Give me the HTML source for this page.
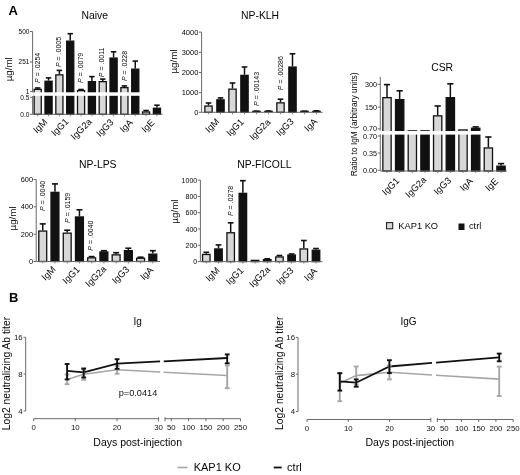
<!DOCTYPE html><html><head><meta charset="utf-8"><style>html,body{margin:0;padding:0;background:#fff;}svg{display:block;filter:blur(0.3px);}</style></head><body>
<svg width="520" height="475" viewBox="0 0 520 475" font-family='"Liberation Sans", sans-serif'>
<rect width="520" height="475" fill="#fff"/>
<text x="8.4" y="14.5" font-size="13" text-anchor="start" font-weight="bold" fill="#050505">A</text>
<text x="9.1" y="302.3" font-size="13" text-anchor="start" font-weight="bold" fill="#050505">B</text>
<text x="81.4" y="19.0" font-size="10.4" text-anchor="start" font-weight="normal" fill="#050505">Naive</text>
<text x="11.8" y="69.3" font-size="9.8" text-anchor="middle" font-weight="normal" fill="#050505" transform="rotate(-90 11.8 69.3)">µg/ml</text>
<line x1="32.6" y1="31.5" x2="32.6" y2="92.4" stroke="#6a6a6a" stroke-width="1"/>
<line x1="30.0" y1="31.5" x2="32.6" y2="31.5" stroke="#6a6a6a" stroke-width="1"/>
<text x="29.4" y="33.84" font-size="6.5" text-anchor="end" font-weight="normal" fill="#050505">500</text>
<line x1="30.0" y1="62" x2="32.6" y2="62" stroke="#6a6a6a" stroke-width="1"/>
<text x="29.4" y="64.34" font-size="6.5" text-anchor="end" font-weight="normal" fill="#050505">251</text>
<line x1="30.0" y1="91.6" x2="32.6" y2="91.6" stroke="#6a6a6a" stroke-width="1"/>
<text x="29.4" y="93.94" font-size="6.5" text-anchor="end" font-weight="normal" fill="#050505">1</text>
<line x1="32.6" y1="96.0" x2="32.6" y2="114.3" stroke="#6a6a6a" stroke-width="1"/>
<line x1="30.0" y1="97.3" x2="32.6" y2="97.3" stroke="#6a6a6a" stroke-width="1"/>
<text x="29.4" y="99.64" font-size="6.5" text-anchor="end" font-weight="normal" fill="#050505">0.5</text>
<line x1="30.0" y1="114.3" x2="32.6" y2="114.3" stroke="#6a6a6a" stroke-width="1"/>
<text x="29.4" y="116.64" font-size="6.5" text-anchor="end" font-weight="normal" fill="#050505">0.0</text>
<line x1="37.7" y1="87.8" x2="37.7" y2="88.7" stroke="#111" stroke-width="1.5"/>
<line x1="34.97" y1="88.0" x2="40.43000000000001" y2="88.0" stroke="#111" stroke-width="1.6"/>
<rect x="34.15" y="89.35" width="7.10" height="24.95" fill="#d8d8d8" stroke="#111" stroke-width="1.3"/>
<line x1="48.540000000000006" y1="77.7" x2="48.540000000000006" y2="80.6" stroke="#111" stroke-width="1.5"/>
<line x1="45.81" y1="77.9" x2="51.27000000000001" y2="77.9" stroke="#111" stroke-width="1.6"/>
<rect x="44.99" y="81.25" width="7.10" height="33.05" fill="#111" stroke="#111" stroke-width="1.3"/>
<line x1="59.38" y1="70.2" x2="59.38" y2="74.2" stroke="#111" stroke-width="1.5"/>
<line x1="56.650000000000006" y1="70.4" x2="62.11" y2="70.4" stroke="#111" stroke-width="1.6"/>
<rect x="55.83" y="74.85" width="7.10" height="39.45" fill="#d8d8d8" stroke="#111" stroke-width="1.3"/>
<line x1="70.22" y1="33.5" x2="70.22" y2="40.5" stroke="#111" stroke-width="1.5"/>
<line x1="67.49" y1="33.7" x2="72.95" y2="33.7" stroke="#111" stroke-width="1.6"/>
<rect x="66.67" y="41.15" width="7.10" height="73.15" fill="#111" stroke="#111" stroke-width="1.3"/>
<line x1="81.06" y1="89.3" x2="81.06" y2="89.9" stroke="#111" stroke-width="1.5"/>
<line x1="78.33" y1="89.5" x2="83.79" y2="89.5" stroke="#111" stroke-width="1.6"/>
<rect x="77.51" y="90.55" width="7.10" height="23.75" fill="#d8d8d8" stroke="#111" stroke-width="1.3"/>
<line x1="91.9" y1="76.4" x2="91.9" y2="81" stroke="#111" stroke-width="1.5"/>
<line x1="89.17" y1="76.60000000000001" x2="94.63000000000001" y2="76.60000000000001" stroke="#111" stroke-width="1.6"/>
<rect x="88.35" y="81.65" width="7.10" height="32.65" fill="#111" stroke="#111" stroke-width="1.3"/>
<line x1="102.74" y1="78.9" x2="102.74" y2="81" stroke="#111" stroke-width="1.5"/>
<line x1="100.00999999999999" y1="79.10000000000001" x2="105.47" y2="79.10000000000001" stroke="#111" stroke-width="1.6"/>
<rect x="99.19" y="81.65" width="7.10" height="32.65" fill="#d8d8d8" stroke="#111" stroke-width="1.3"/>
<line x1="113.58" y1="51.6" x2="113.58" y2="57.4" stroke="#111" stroke-width="1.5"/>
<line x1="110.85" y1="51.800000000000004" x2="116.31" y2="51.800000000000004" stroke="#111" stroke-width="1.6"/>
<rect x="110.03" y="58.05" width="7.10" height="56.25" fill="#111" stroke="#111" stroke-width="1.3"/>
<line x1="124.42" y1="85.7" x2="124.42" y2="87" stroke="#111" stroke-width="1.5"/>
<line x1="121.69" y1="85.9" x2="127.15" y2="85.9" stroke="#111" stroke-width="1.6"/>
<rect x="120.87" y="87.65" width="7.10" height="26.65" fill="#d8d8d8" stroke="#111" stroke-width="1.3"/>
<line x1="135.26" y1="60.9" x2="135.26" y2="68.5" stroke="#111" stroke-width="1.5"/>
<line x1="132.53" y1="61.1" x2="137.98999999999998" y2="61.1" stroke="#111" stroke-width="1.6"/>
<rect x="131.71" y="69.15" width="7.10" height="45.15" fill="#111" stroke="#111" stroke-width="1.3"/>
<line x1="146.10000000000002" y1="110.3" x2="146.10000000000002" y2="111.3" stroke="#111" stroke-width="1.5"/>
<line x1="143.37000000000003" y1="110.5" x2="148.83" y2="110.5" stroke="#111" stroke-width="1.6"/>
<rect x="142.55" y="111.95" width="7.10" height="2.35" fill="#d8d8d8" stroke="#111" stroke-width="1.3"/>
<line x1="156.94" y1="105" x2="156.94" y2="107.6" stroke="#111" stroke-width="1.5"/>
<line x1="154.21" y1="105.2" x2="159.67" y2="105.2" stroke="#111" stroke-width="1.6"/>
<rect x="153.39" y="108.25" width="7.10" height="6.05" fill="#111" stroke="#111" stroke-width="1.3"/>
<rect x="33.2" y="92.3" width="130.4" height="3.5" fill="#fff"/>
<line x1="32.6" y1="114.3" x2="162.6" y2="114.3" stroke="#6a6a6a" stroke-width="1"/>
<line x1="37.7" y1="114.3" x2="37.7" y2="116.3" stroke="#6a6a6a" stroke-width="0.8"/>
<line x1="48.540000000000006" y1="114.3" x2="48.540000000000006" y2="116.3" stroke="#6a6a6a" stroke-width="0.8"/>
<line x1="59.38" y1="114.3" x2="59.38" y2="116.3" stroke="#6a6a6a" stroke-width="0.8"/>
<line x1="70.22" y1="114.3" x2="70.22" y2="116.3" stroke="#6a6a6a" stroke-width="0.8"/>
<line x1="81.06" y1="114.3" x2="81.06" y2="116.3" stroke="#6a6a6a" stroke-width="0.8"/>
<line x1="91.9" y1="114.3" x2="91.9" y2="116.3" stroke="#6a6a6a" stroke-width="0.8"/>
<line x1="102.74" y1="114.3" x2="102.74" y2="116.3" stroke="#6a6a6a" stroke-width="0.8"/>
<line x1="113.58" y1="114.3" x2="113.58" y2="116.3" stroke="#6a6a6a" stroke-width="0.8"/>
<line x1="124.42" y1="114.3" x2="124.42" y2="116.3" stroke="#6a6a6a" stroke-width="0.8"/>
<line x1="135.26" y1="114.3" x2="135.26" y2="116.3" stroke="#6a6a6a" stroke-width="0.8"/>
<line x1="146.10000000000002" y1="114.3" x2="146.10000000000002" y2="116.3" stroke="#6a6a6a" stroke-width="0.8"/>
<line x1="156.94" y1="114.3" x2="156.94" y2="116.3" stroke="#6a6a6a" stroke-width="0.8"/>
<text x="47.9" y="122.8" font-size="9.3" text-anchor="end" font-weight="normal" fill="#050505" transform="rotate(-45 47.9 122.8)">IgM</text>
<text x="69.2" y="122.2" font-size="9.3" text-anchor="end" font-weight="normal" fill="#050505" transform="rotate(-45 69.2 122.2)">IgG1</text>
<text x="92.5" y="122.3" font-size="9.3" text-anchor="end" font-weight="normal" fill="#050505" transform="rotate(-45 92.5 122.3)">IgG2a</text>
<text x="114.2" y="122.9" font-size="9.3" text-anchor="end" font-weight="normal" fill="#050505" transform="rotate(-45 114.2 122.9)">IgG3</text>
<text x="133.3" y="123.1" font-size="9.3" text-anchor="end" font-weight="normal" fill="#050505" transform="rotate(-45 133.3 123.1)">IgA</text>
<text x="155.1" y="123.1" font-size="9.3" text-anchor="end" font-weight="normal" fill="#050505" transform="rotate(-45 155.1 123.1)">IgE</text>
<text x="39.8" y="82.9" font-size="7" fill="#050505" transform="rotate(-90 39.8 82.9)"><tspan font-style="italic">P</tspan> = .0254</text>
<text x="60.9" y="67.0" font-size="7" fill="#050505" transform="rotate(-90 60.9 67.0)"><tspan font-style="italic">P</tspan> = .0005</text>
<text x="82.7" y="82.9" font-size="7" fill="#050505" transform="rotate(-90 82.7 82.9)"><tspan font-style="italic">P</tspan> = .0079</text>
<text x="103.6" y="77.2" font-size="7" fill="#050505" transform="rotate(-90 103.6 77.2)"><tspan font-style="italic">P</tspan> = .0011</text>
<text x="126.7" y="81.0" font-size="7" fill="#050505" transform="rotate(-90 126.7 81.0)"><tspan font-style="italic">P</tspan> = .0228</text>
<text x="241.0" y="19.0" font-size="10.4" text-anchor="start" font-weight="normal" fill="#050505">NP-KLH</text>
<text x="177.1" y="61.5" font-size="9.8" text-anchor="middle" font-weight="normal" fill="#050505" transform="rotate(-90 177.1 61.5)">µg/ml</text>
<line x1="201.6" y1="32.1" x2="201.6" y2="112.3" stroke="#6a6a6a" stroke-width="1"/>
<line x1="199.0" y1="32.1" x2="201.6" y2="32.1" stroke="#6a6a6a" stroke-width="1"/>
<text x="198.4" y="34.800000000000004" font-size="7.5" text-anchor="end" font-weight="normal" fill="#050505">4000</text>
<line x1="199.0" y1="52.3" x2="201.6" y2="52.3" stroke="#6a6a6a" stroke-width="1"/>
<text x="198.4" y="55.0" font-size="7.5" text-anchor="end" font-weight="normal" fill="#050505">3000</text>
<line x1="199.0" y1="72.5" x2="201.6" y2="72.5" stroke="#6a6a6a" stroke-width="1"/>
<text x="198.4" y="75.2" font-size="7.5" text-anchor="end" font-weight="normal" fill="#050505">2000</text>
<line x1="199.0" y1="92.7" x2="201.6" y2="92.7" stroke="#6a6a6a" stroke-width="1"/>
<text x="198.4" y="95.4" font-size="7.5" text-anchor="end" font-weight="normal" fill="#050505">1000</text>
<line x1="199.0" y1="112.3" x2="201.6" y2="112.3" stroke="#6a6a6a" stroke-width="1"/>
<text x="198.4" y="115.0" font-size="7.5" text-anchor="end" font-weight="normal" fill="#050505">0</text>
<line x1="208.5" y1="102.8" x2="208.5" y2="105.4" stroke="#111" stroke-width="1.5"/>
<line x1="205.705" y1="103.0" x2="211.295" y2="103.0" stroke="#111" stroke-width="1.6"/>
<rect x="204.85" y="106.05" width="7.30" height="6.25" fill="#d8d8d8" stroke="#111" stroke-width="1.3"/>
<line x1="220.5" y1="97.7" x2="220.5" y2="99.2" stroke="#111" stroke-width="1.5"/>
<line x1="217.705" y1="97.9" x2="223.295" y2="97.9" stroke="#111" stroke-width="1.6"/>
<rect x="216.85" y="99.85" width="7.30" height="12.45" fill="#111" stroke="#111" stroke-width="1.3"/>
<line x1="232.5" y1="82.8" x2="232.5" y2="88.5" stroke="#111" stroke-width="1.5"/>
<line x1="229.705" y1="83.0" x2="235.295" y2="83.0" stroke="#111" stroke-width="1.6"/>
<rect x="228.85" y="89.15" width="7.30" height="23.15" fill="#d8d8d8" stroke="#111" stroke-width="1.3"/>
<line x1="244.5" y1="66.8" x2="244.5" y2="74.7" stroke="#111" stroke-width="1.5"/>
<line x1="241.705" y1="67.0" x2="247.295" y2="67.0" stroke="#111" stroke-width="1.6"/>
<rect x="240.85" y="75.35" width="7.30" height="36.95" fill="#111" stroke="#111" stroke-width="1.3"/>
<line x1="256.5" y1="111" x2="256.5" y2="111.4" stroke="#111" stroke-width="1.5"/>
<line x1="253.705" y1="111.2" x2="259.295" y2="111.2" stroke="#111" stroke-width="1.6"/>
<rect x="252.20" y="110.70" width="8.60" height="1.6" fill="#111"/>
<line x1="268.5" y1="110.8" x2="268.5" y2="111.2" stroke="#111" stroke-width="1.5"/>
<line x1="265.705" y1="111.0" x2="271.295" y2="111.0" stroke="#111" stroke-width="1.6"/>
<rect x="264.20" y="110.70" width="8.60" height="1.6" fill="#111"/>
<line x1="280.5" y1="99" x2="280.5" y2="102.2" stroke="#111" stroke-width="1.5"/>
<line x1="277.705" y1="99.2" x2="283.295" y2="99.2" stroke="#111" stroke-width="1.6"/>
<rect x="276.85" y="102.85" width="7.30" height="9.45" fill="#d8d8d8" stroke="#111" stroke-width="1.3"/>
<line x1="292.5" y1="53.6" x2="292.5" y2="66.4" stroke="#111" stroke-width="1.5"/>
<line x1="289.705" y1="53.800000000000004" x2="295.295" y2="53.800000000000004" stroke="#111" stroke-width="1.6"/>
<rect x="288.85" y="67.05" width="7.30" height="45.25" fill="#111" stroke="#111" stroke-width="1.3"/>
<line x1="304.5" y1="111" x2="304.5" y2="111.4" stroke="#111" stroke-width="1.5"/>
<line x1="301.705" y1="111.2" x2="307.295" y2="111.2" stroke="#111" stroke-width="1.6"/>
<rect x="300.20" y="110.70" width="8.60" height="1.6" fill="#111"/>
<line x1="316.5" y1="110.6" x2="316.5" y2="111.1" stroke="#111" stroke-width="1.5"/>
<line x1="313.705" y1="110.8" x2="319.295" y2="110.8" stroke="#111" stroke-width="1.6"/>
<rect x="312.20" y="110.70" width="8.60" height="1.6" fill="#111"/>
<line x1="201.6" y1="112.3" x2="322.6" y2="112.3" stroke="#6a6a6a" stroke-width="1"/>
<line x1="208.5" y1="112.3" x2="208.5" y2="114.3" stroke="#6a6a6a" stroke-width="0.8"/>
<line x1="220.5" y1="112.3" x2="220.5" y2="114.3" stroke="#6a6a6a" stroke-width="0.8"/>
<line x1="232.5" y1="112.3" x2="232.5" y2="114.3" stroke="#6a6a6a" stroke-width="0.8"/>
<line x1="244.5" y1="112.3" x2="244.5" y2="114.3" stroke="#6a6a6a" stroke-width="0.8"/>
<line x1="256.5" y1="112.3" x2="256.5" y2="114.3" stroke="#6a6a6a" stroke-width="0.8"/>
<line x1="268.5" y1="112.3" x2="268.5" y2="114.3" stroke="#6a6a6a" stroke-width="0.8"/>
<line x1="280.5" y1="112.3" x2="280.5" y2="114.3" stroke="#6a6a6a" stroke-width="0.8"/>
<line x1="292.5" y1="112.3" x2="292.5" y2="114.3" stroke="#6a6a6a" stroke-width="0.8"/>
<line x1="304.5" y1="112.3" x2="304.5" y2="114.3" stroke="#6a6a6a" stroke-width="0.8"/>
<line x1="316.5" y1="112.3" x2="316.5" y2="114.3" stroke="#6a6a6a" stroke-width="0.8"/>
<text x="220" y="122.2" font-size="9.3" text-anchor="end" font-weight="normal" fill="#050505" transform="rotate(-45 220 122.2)">IgM</text>
<text x="244.4" y="122.5" font-size="9.3" text-anchor="end" font-weight="normal" fill="#050505" transform="rotate(-45 244.4 122.5)">IgG1</text>
<text x="271.1" y="122.8" font-size="9.3" text-anchor="end" font-weight="normal" fill="#050505" transform="rotate(-45 271.1 122.8)">IgG2a</text>
<text x="294.3" y="122.2" font-size="9.3" text-anchor="end" font-weight="normal" fill="#050505" transform="rotate(-45 294.3 122.2)">IgG3</text>
<text x="318" y="122.2" font-size="9.3" text-anchor="end" font-weight="normal" fill="#050505" transform="rotate(-45 318 122.2)">IgA</text>
<text x="259.4" y="105.9" font-size="7" fill="#050505" transform="rotate(-90 259.4 105.9)"><tspan font-style="italic">P</tspan> = .00143</text>
<text x="282.6" y="90.2" font-size="7" fill="#050505" transform="rotate(-90 282.6 90.2)"><tspan font-style="italic">P</tspan> = .00286</text>
<text x="431.2" y="71.2" font-size="10.4" text-anchor="start" font-weight="normal" fill="#050505">CSR</text>
<text x="357.4" y="124.4" font-size="8.4" text-anchor="middle" font-weight="normal" fill="#050505" transform="rotate(-90 357.4 124.4)">Ratio to IgM (arbitrary units)</text>
<line x1="380.3" y1="76.8" x2="380.3" y2="130.6" stroke="#6a6a6a" stroke-width="1"/>
<line x1="377.7" y1="84.4" x2="380.3" y2="84.4" stroke="#6a6a6a" stroke-width="1"/>
<text x="377.09999999999997" y="86.992" font-size="7.2" text-anchor="end" font-weight="normal" fill="#050505">300</text>
<line x1="377.7" y1="107.1" x2="380.3" y2="107.1" stroke="#6a6a6a" stroke-width="1"/>
<text x="377.09999999999997" y="109.692" font-size="7.2" text-anchor="end" font-weight="normal" fill="#050505">150</text>
<line x1="377.7" y1="128.9" x2="380.3" y2="128.9" stroke="#6a6a6a" stroke-width="1"/>
<text x="377.09999999999997" y="131.49200000000002" font-size="7.2" text-anchor="end" font-weight="normal" fill="#050505">0.70</text>
<line x1="380.3" y1="134.2" x2="380.3" y2="171" stroke="#6a6a6a" stroke-width="1"/>
<line x1="377.7" y1="136.0" x2="380.3" y2="136.0" stroke="#6a6a6a" stroke-width="1"/>
<text x="377.09999999999997" y="138.592" font-size="7.2" text-anchor="end" font-weight="normal" fill="#050505">0.70</text>
<line x1="377.7" y1="153.0" x2="380.3" y2="153.0" stroke="#6a6a6a" stroke-width="1"/>
<text x="377.09999999999997" y="155.592" font-size="7.2" text-anchor="end" font-weight="normal" fill="#050505">0.35</text>
<line x1="377.7" y1="170.3" x2="380.3" y2="170.3" stroke="#6a6a6a" stroke-width="1"/>
<text x="377.09999999999997" y="172.89200000000002" font-size="7.2" text-anchor="end" font-weight="normal" fill="#050505">0.00</text>
<line x1="387.0" y1="84.4" x2="387.0" y2="97" stroke="#111" stroke-width="1.5"/>
<line x1="383.88" y1="84.60000000000001" x2="390.12" y2="84.60000000000001" stroke="#111" stroke-width="1.6"/>
<rect x="382.85" y="97.65" width="8.30" height="73.35" fill="#d8d8d8" stroke="#111" stroke-width="1.3"/>
<line x1="399.67" y1="90.6" x2="399.67" y2="99" stroke="#111" stroke-width="1.5"/>
<line x1="396.55" y1="90.8" x2="402.79" y2="90.8" stroke="#111" stroke-width="1.6"/>
<rect x="395.52" y="99.65" width="8.30" height="71.35" fill="#111" stroke="#111" stroke-width="1.3"/>
<rect x="408.19" y="130.85" width="8.30" height="40.15" fill="#d8d8d8" stroke="#111" stroke-width="1.3"/>
<rect x="420.86" y="130.85" width="8.30" height="40.15" fill="#111" stroke="#111" stroke-width="1.3"/>
<line x1="437.68" y1="105.8" x2="437.68" y2="115.2" stroke="#111" stroke-width="1.5"/>
<line x1="434.56" y1="106.0" x2="440.8" y2="106.0" stroke="#111" stroke-width="1.6"/>
<rect x="433.53" y="115.85" width="8.30" height="55.15" fill="#d8d8d8" stroke="#111" stroke-width="1.3"/>
<line x1="450.35" y1="83.6" x2="450.35" y2="97" stroke="#111" stroke-width="1.5"/>
<line x1="447.23" y1="83.8" x2="453.47" y2="83.8" stroke="#111" stroke-width="1.6"/>
<rect x="446.20" y="97.65" width="8.30" height="73.35" fill="#111" stroke="#111" stroke-width="1.3"/>
<rect x="458.87" y="129.95" width="8.30" height="41.05" fill="#d8d8d8" stroke="#111" stroke-width="1.3"/>
<line x1="475.69" y1="126.7" x2="475.69" y2="127.6" stroke="#111" stroke-width="1.5"/>
<line x1="472.57" y1="126.9" x2="478.81" y2="126.9" stroke="#111" stroke-width="1.6"/>
<rect x="471.54" y="128.25" width="8.30" height="42.75" fill="#111" stroke="#111" stroke-width="1.3"/>
<line x1="488.36" y1="136.8" x2="488.36" y2="147.3" stroke="#111" stroke-width="1.5"/>
<line x1="485.24" y1="137.0" x2="491.48" y2="137.0" stroke="#111" stroke-width="1.6"/>
<rect x="484.21" y="147.95" width="8.30" height="23.05" fill="#d8d8d8" stroke="#111" stroke-width="1.3"/>
<line x1="501.03" y1="163.4" x2="501.03" y2="165.5" stroke="#111" stroke-width="1.5"/>
<line x1="497.90999999999997" y1="163.6" x2="504.15" y2="163.6" stroke="#111" stroke-width="1.6"/>
<rect x="496.88" y="166.15" width="8.30" height="4.85" fill="#111" stroke="#111" stroke-width="1.3"/>
<rect x="380.90000000000003" y="131.0" width="127.69999999999999" height="3.6" fill="#fff"/>
<line x1="380.3" y1="171" x2="507" y2="171" stroke="#6a6a6a" stroke-width="1"/>
<line x1="387.0" y1="171" x2="387.0" y2="173.0" stroke="#6a6a6a" stroke-width="0.8"/>
<line x1="399.67" y1="171" x2="399.67" y2="173.0" stroke="#6a6a6a" stroke-width="0.8"/>
<line x1="412.34" y1="171" x2="412.34" y2="173.0" stroke="#6a6a6a" stroke-width="0.8"/>
<line x1="425.01" y1="171" x2="425.01" y2="173.0" stroke="#6a6a6a" stroke-width="0.8"/>
<line x1="437.68" y1="171" x2="437.68" y2="173.0" stroke="#6a6a6a" stroke-width="0.8"/>
<line x1="450.35" y1="171" x2="450.35" y2="173.0" stroke="#6a6a6a" stroke-width="0.8"/>
<line x1="463.02" y1="171" x2="463.02" y2="173.0" stroke="#6a6a6a" stroke-width="0.8"/>
<line x1="475.69" y1="171" x2="475.69" y2="173.0" stroke="#6a6a6a" stroke-width="0.8"/>
<line x1="488.36" y1="171" x2="488.36" y2="173.0" stroke="#6a6a6a" stroke-width="0.8"/>
<line x1="501.03" y1="171" x2="501.03" y2="173.0" stroke="#6a6a6a" stroke-width="0.8"/>
<text x="400" y="181.4" font-size="9.3" text-anchor="end" font-weight="normal" fill="#050505" transform="rotate(-45 400 181.4)">IgG1</text>
<text x="427" y="180.4" font-size="9.3" text-anchor="end" font-weight="normal" fill="#050505" transform="rotate(-45 427 180.4)">IgG2a</text>
<text x="451.8" y="181.1" font-size="9.3" text-anchor="end" font-weight="normal" fill="#050505" transform="rotate(-45 451.8 181.1)">IgG3</text>
<text x="473.4" y="181.7" font-size="9.3" text-anchor="end" font-weight="normal" fill="#050505" transform="rotate(-45 473.4 181.7)">IgA</text>
<text x="498.9" y="181.9" font-size="9.3" text-anchor="end" font-weight="normal" fill="#050505" transform="rotate(-45 498.9 181.9)">IgE</text>
<rect x="386.5" y="222.6" width="6.2" height="6.2" fill="#d8d8d8" stroke="#222" stroke-width="1.1"/>
<text x="398.3" y="229.3" font-size="9.3" text-anchor="start" font-weight="normal" fill="#050505">KAP1 KO</text>
<rect x="458.5" y="223.5" width="6" height="6.5" fill="#111"/>
<text x="469" y="229.4" font-size="9.2" text-anchor="start" font-weight="normal" fill="#050505">ctrl</text>
<text x="79.0" y="167.7" font-size="10.4" text-anchor="start" font-weight="normal" fill="#050505">NP-LPS</text>
<text x="15.8" y="218.4" font-size="9.8" text-anchor="middle" font-weight="normal" fill="#050505" transform="rotate(-90 15.8 218.4)">µg/ml</text>
<line x1="36.2" y1="179.5" x2="36.2" y2="261.5" stroke="#6a6a6a" stroke-width="1"/>
<line x1="33.6" y1="179.5" x2="36.2" y2="179.5" stroke="#6a6a6a" stroke-width="1"/>
<text x="33.0" y="182.164" font-size="7.4" text-anchor="end" font-weight="normal" fill="#050505">600</text>
<line x1="33.6" y1="206.8" x2="36.2" y2="206.8" stroke="#6a6a6a" stroke-width="1"/>
<text x="33.0" y="209.464" font-size="7.4" text-anchor="end" font-weight="normal" fill="#050505">400</text>
<line x1="33.6" y1="234.2" x2="36.2" y2="234.2" stroke="#6a6a6a" stroke-width="1"/>
<text x="33.0" y="236.86399999999998" font-size="7.4" text-anchor="end" font-weight="normal" fill="#050505">200</text>
<line x1="33.6" y1="261.5" x2="36.2" y2="261.5" stroke="#6a6a6a" stroke-width="1"/>
<text x="33.0" y="264.164" font-size="7.4" text-anchor="end" font-weight="normal" fill="#050505">0</text>
<line x1="42.75" y1="223.7" x2="42.75" y2="230.4" stroke="#111" stroke-width="1.5"/>
<line x1="39.76" y1="223.89999999999998" x2="45.74" y2="223.89999999999998" stroke="#111" stroke-width="1.6"/>
<rect x="38.80" y="231.05" width="7.90" height="30.45" fill="#d8d8d8" stroke="#111" stroke-width="1.3"/>
<line x1="54.980000000000004" y1="183.7" x2="54.980000000000004" y2="191.7" stroke="#111" stroke-width="1.5"/>
<line x1="51.99" y1="183.89999999999998" x2="57.970000000000006" y2="183.89999999999998" stroke="#111" stroke-width="1.6"/>
<rect x="51.03" y="192.35" width="7.90" height="69.15" fill="#111" stroke="#111" stroke-width="1.3"/>
<line x1="67.21000000000001" y1="230" x2="67.21000000000001" y2="232.5" stroke="#111" stroke-width="1.5"/>
<line x1="64.22000000000001" y1="230.2" x2="70.2" y2="230.2" stroke="#111" stroke-width="1.6"/>
<rect x="63.26" y="233.15" width="7.90" height="28.35" fill="#d8d8d8" stroke="#111" stroke-width="1.3"/>
<line x1="79.44" y1="209.6" x2="79.44" y2="216.3" stroke="#111" stroke-width="1.5"/>
<line x1="76.45" y1="209.79999999999998" x2="82.42999999999999" y2="209.79999999999998" stroke="#111" stroke-width="1.6"/>
<rect x="75.49" y="216.95" width="7.90" height="44.55" fill="#111" stroke="#111" stroke-width="1.3"/>
<line x1="91.67" y1="256.4" x2="91.67" y2="257.2" stroke="#111" stroke-width="1.5"/>
<line x1="88.68" y1="256.59999999999997" x2="94.66" y2="256.59999999999997" stroke="#111" stroke-width="1.6"/>
<rect x="87.72" y="257.85" width="7.90" height="3.65" fill="#d8d8d8" stroke="#111" stroke-width="1.3"/>
<line x1="103.9" y1="250.5" x2="103.9" y2="251.3" stroke="#111" stroke-width="1.5"/>
<line x1="100.91000000000001" y1="250.7" x2="106.89" y2="250.7" stroke="#111" stroke-width="1.6"/>
<rect x="99.95" y="251.95" width="7.90" height="9.55" fill="#111" stroke="#111" stroke-width="1.3"/>
<line x1="116.13" y1="252.5" x2="116.13" y2="254.2" stroke="#111" stroke-width="1.5"/>
<line x1="113.14" y1="252.7" x2="119.11999999999999" y2="252.7" stroke="#111" stroke-width="1.6"/>
<rect x="112.18" y="254.85" width="7.90" height="6.65" fill="#d8d8d8" stroke="#111" stroke-width="1.3"/>
<line x1="128.36" y1="248" x2="128.36" y2="250" stroke="#111" stroke-width="1.5"/>
<line x1="125.37000000000002" y1="248.2" x2="131.35000000000002" y2="248.2" stroke="#111" stroke-width="1.6"/>
<rect x="124.41" y="250.65" width="7.90" height="10.85" fill="#111" stroke="#111" stroke-width="1.3"/>
<line x1="140.59" y1="257" x2="140.59" y2="257.6" stroke="#111" stroke-width="1.5"/>
<line x1="137.6" y1="257.2" x2="143.58" y2="257.2" stroke="#111" stroke-width="1.6"/>
<rect x="136.64" y="258.25" width="7.90" height="3.25" fill="#d8d8d8" stroke="#111" stroke-width="1.3"/>
<line x1="152.82" y1="250.5" x2="152.82" y2="253.5" stroke="#111" stroke-width="1.5"/>
<line x1="149.82999999999998" y1="250.7" x2="155.81" y2="250.7" stroke="#111" stroke-width="1.6"/>
<rect x="148.87" y="254.15" width="7.90" height="7.35" fill="#111" stroke="#111" stroke-width="1.3"/>
<line x1="36.2" y1="261.5" x2="160" y2="261.5" stroke="#6a6a6a" stroke-width="1"/>
<line x1="42.75" y1="261.5" x2="42.75" y2="263.5" stroke="#6a6a6a" stroke-width="0.8"/>
<line x1="54.980000000000004" y1="261.5" x2="54.980000000000004" y2="263.5" stroke="#6a6a6a" stroke-width="0.8"/>
<line x1="67.21000000000001" y1="261.5" x2="67.21000000000001" y2="263.5" stroke="#6a6a6a" stroke-width="0.8"/>
<line x1="79.44" y1="261.5" x2="79.44" y2="263.5" stroke="#6a6a6a" stroke-width="0.8"/>
<line x1="91.67" y1="261.5" x2="91.67" y2="263.5" stroke="#6a6a6a" stroke-width="0.8"/>
<line x1="103.9" y1="261.5" x2="103.9" y2="263.5" stroke="#6a6a6a" stroke-width="0.8"/>
<line x1="116.13" y1="261.5" x2="116.13" y2="263.5" stroke="#6a6a6a" stroke-width="0.8"/>
<line x1="128.36" y1="261.5" x2="128.36" y2="263.5" stroke="#6a6a6a" stroke-width="0.8"/>
<line x1="140.59" y1="261.5" x2="140.59" y2="263.5" stroke="#6a6a6a" stroke-width="0.8"/>
<line x1="152.82" y1="261.5" x2="152.82" y2="263.5" stroke="#6a6a6a" stroke-width="0.8"/>
<text x="56.3" y="270.1" font-size="9.3" text-anchor="end" font-weight="normal" fill="#050505" transform="rotate(-45 56.3 270.1)">IgM</text>
<text x="80.5" y="270.2" font-size="9.3" text-anchor="end" font-weight="normal" fill="#050505" transform="rotate(-45 80.5 270.2)">IgG1</text>
<text x="107" y="269.6" font-size="9.3" text-anchor="end" font-weight="normal" fill="#050505" transform="rotate(-45 107 269.6)">IgG2a</text>
<text x="130" y="270.1" font-size="9.3" text-anchor="end" font-weight="normal" fill="#050505" transform="rotate(-45 130 270.1)">IgG3</text>
<text x="153.9" y="270.6" font-size="9.3" text-anchor="end" font-weight="normal" fill="#050505" transform="rotate(-45 153.9 270.6)">IgA</text>
<text x="45.1" y="210.9" font-size="7" fill="#050505" transform="rotate(-90 45.1 210.9)"><tspan font-style="italic">P</tspan> = .0040</text>
<text x="69.7" y="222.9" font-size="7" fill="#050505" transform="rotate(-90 69.7 222.9)"><tspan font-style="italic">P</tspan> = .0159</text>
<text x="93.2" y="250.7" font-size="7" fill="#050505" transform="rotate(-90 93.2 250.7)"><tspan font-style="italic">P</tspan> = .0040</text>
<text x="237.2" y="167.7" font-size="10.4" text-anchor="start" font-weight="normal" fill="#050505">NP-FICOLL</text>
<text x="178.0" y="211.6" font-size="9.8" text-anchor="middle" font-weight="normal" fill="#050505" transform="rotate(-90 178.0 211.6)">µg/ml</text>
<line x1="200.4" y1="180.1" x2="200.4" y2="261.6" stroke="#6a6a6a" stroke-width="1"/>
<line x1="197.8" y1="180.1" x2="200.4" y2="180.1" stroke="#6a6a6a" stroke-width="1"/>
<text x="197.20000000000002" y="182.62" font-size="7.0" text-anchor="end" font-weight="normal" fill="#050505">1000</text>
<line x1="197.8" y1="196.4" x2="200.4" y2="196.4" stroke="#6a6a6a" stroke-width="1"/>
<text x="197.20000000000002" y="198.92000000000002" font-size="7.0" text-anchor="end" font-weight="normal" fill="#050505">800</text>
<line x1="197.8" y1="212.7" x2="200.4" y2="212.7" stroke="#6a6a6a" stroke-width="1"/>
<text x="197.20000000000002" y="215.22" font-size="7.0" text-anchor="end" font-weight="normal" fill="#050505">600</text>
<line x1="197.8" y1="229.0" x2="200.4" y2="229.0" stroke="#6a6a6a" stroke-width="1"/>
<text x="197.20000000000002" y="231.52" font-size="7.0" text-anchor="end" font-weight="normal" fill="#050505">400</text>
<line x1="197.8" y1="245.3" x2="200.4" y2="245.3" stroke="#6a6a6a" stroke-width="1"/>
<text x="197.20000000000002" y="247.82000000000002" font-size="7.0" text-anchor="end" font-weight="normal" fill="#050505">200</text>
<line x1="197.8" y1="261.6" x2="200.4" y2="261.6" stroke="#6a6a6a" stroke-width="1"/>
<text x="197.20000000000002" y="264.12" font-size="7.0" text-anchor="end" font-weight="normal" fill="#050505">0</text>
<line x1="206.3" y1="252.1" x2="206.3" y2="253.8" stroke="#111" stroke-width="1.5"/>
<line x1="203.44" y1="252.29999999999998" x2="209.16000000000003" y2="252.29999999999998" stroke="#111" stroke-width="1.6"/>
<rect x="202.55" y="254.45" width="7.50" height="7.15" fill="#d8d8d8" stroke="#111" stroke-width="1.3"/>
<line x1="218.49" y1="244.7" x2="218.49" y2="248.3" stroke="#111" stroke-width="1.5"/>
<line x1="215.63" y1="244.89999999999998" x2="221.35000000000002" y2="244.89999999999998" stroke="#111" stroke-width="1.6"/>
<rect x="214.74" y="248.95" width="7.50" height="12.65" fill="#111" stroke="#111" stroke-width="1.3"/>
<line x1="230.68" y1="222.6" x2="230.68" y2="232.1" stroke="#111" stroke-width="1.5"/>
<line x1="227.82" y1="222.79999999999998" x2="233.54000000000002" y2="222.79999999999998" stroke="#111" stroke-width="1.6"/>
<rect x="226.93" y="232.75" width="7.50" height="28.85" fill="#d8d8d8" stroke="#111" stroke-width="1.3"/>
<line x1="242.87" y1="180.5" x2="242.87" y2="192.7" stroke="#111" stroke-width="1.5"/>
<line x1="240.01" y1="180.7" x2="245.73000000000002" y2="180.7" stroke="#111" stroke-width="1.6"/>
<rect x="239.12" y="193.35" width="7.50" height="68.25" fill="#111" stroke="#111" stroke-width="1.3"/>
<rect x="251.31" y="260.35" width="7.50" height="1.25" fill="#d8d8d8" stroke="#111" stroke-width="1.3"/>
<line x1="267.25" y1="258.6" x2="267.25" y2="259" stroke="#111" stroke-width="1.5"/>
<line x1="264.39" y1="258.8" x2="270.11" y2="258.8" stroke="#111" stroke-width="1.6"/>
<rect x="263.50" y="259.65" width="7.50" height="1.95" fill="#111" stroke="#111" stroke-width="1.3"/>
<line x1="279.44" y1="255.3" x2="279.44" y2="256.3" stroke="#111" stroke-width="1.5"/>
<line x1="276.58" y1="255.5" x2="282.3" y2="255.5" stroke="#111" stroke-width="1.6"/>
<rect x="275.69" y="256.95" width="7.50" height="4.65" fill="#d8d8d8" stroke="#111" stroke-width="1.3"/>
<line x1="291.63" y1="253.8" x2="291.63" y2="254.4" stroke="#111" stroke-width="1.5"/>
<line x1="288.77" y1="254.0" x2="294.49" y2="254.0" stroke="#111" stroke-width="1.6"/>
<rect x="287.88" y="255.05" width="7.50" height="6.55" fill="#111" stroke="#111" stroke-width="1.3"/>
<line x1="303.82" y1="240.3" x2="303.82" y2="248.3" stroke="#111" stroke-width="1.5"/>
<line x1="300.96" y1="240.5" x2="306.68" y2="240.5" stroke="#111" stroke-width="1.6"/>
<rect x="300.07" y="248.95" width="7.50" height="12.65" fill="#d8d8d8" stroke="#111" stroke-width="1.3"/>
<line x1="316.01" y1="248.3" x2="316.01" y2="249.6" stroke="#111" stroke-width="1.5"/>
<line x1="313.15" y1="248.5" x2="318.87" y2="248.5" stroke="#111" stroke-width="1.6"/>
<rect x="312.26" y="250.25" width="7.50" height="11.35" fill="#111" stroke="#111" stroke-width="1.3"/>
<line x1="200.4" y1="261.6" x2="322.4" y2="261.6" stroke="#6a6a6a" stroke-width="1"/>
<line x1="206.3" y1="261.6" x2="206.3" y2="263.6" stroke="#6a6a6a" stroke-width="0.8"/>
<line x1="218.49" y1="261.6" x2="218.49" y2="263.6" stroke="#6a6a6a" stroke-width="0.8"/>
<line x1="230.68" y1="261.6" x2="230.68" y2="263.6" stroke="#6a6a6a" stroke-width="0.8"/>
<line x1="242.87" y1="261.6" x2="242.87" y2="263.6" stroke="#6a6a6a" stroke-width="0.8"/>
<line x1="255.06" y1="261.6" x2="255.06" y2="263.6" stroke="#6a6a6a" stroke-width="0.8"/>
<line x1="267.25" y1="261.6" x2="267.25" y2="263.6" stroke="#6a6a6a" stroke-width="0.8"/>
<line x1="279.44" y1="261.6" x2="279.44" y2="263.6" stroke="#6a6a6a" stroke-width="0.8"/>
<line x1="291.63" y1="261.6" x2="291.63" y2="263.6" stroke="#6a6a6a" stroke-width="0.8"/>
<line x1="303.82" y1="261.6" x2="303.82" y2="263.6" stroke="#6a6a6a" stroke-width="0.8"/>
<line x1="316.01" y1="261.6" x2="316.01" y2="263.6" stroke="#6a6a6a" stroke-width="0.8"/>
<text x="220.2" y="271.1" font-size="9.3" text-anchor="end" font-weight="normal" fill="#050505" transform="rotate(-45 220.2 271.1)">IgM</text>
<text x="244.1" y="271.1" font-size="9.3" text-anchor="end" font-weight="normal" fill="#050505" transform="rotate(-45 244.1 271.1)">IgG1</text>
<text x="270.8" y="270.0" font-size="9.3" text-anchor="end" font-weight="normal" fill="#050505" transform="rotate(-45 270.8 270.0)">IgG2a</text>
<text x="294.2" y="271.1" font-size="9.3" text-anchor="end" font-weight="normal" fill="#050505" transform="rotate(-45 294.2 271.1)">IgG3</text>
<text x="317.7" y="271.5" font-size="9.3" text-anchor="end" font-weight="normal" fill="#050505" transform="rotate(-45 317.7 271.5)">IgA</text>
<text x="232.8" y="216.0" font-size="7" fill="#050505" transform="rotate(-90 232.8 216.0)"><tspan font-style="italic">P</tspan> = .0278</text>
<text x="10.3" y="373.6" font-size="10.3" text-anchor="middle" font-weight="normal" fill="#050505" transform="rotate(-90 10.3 373.6)">Log2 neutralizing Ab titer</text>
<line x1="25.7" y1="337.3" x2="25.7" y2="411.0" stroke="#6a6a6a" stroke-width="1"/>
<line x1="23.5" y1="337.3" x2="25.7" y2="337.3" stroke="#6a6a6a" stroke-width="1"/>
<text x="22.7" y="340.1" font-size="7.8" text-anchor="end" font-weight="normal" fill="#111">16</text>
<line x1="23.5" y1="374.0" x2="25.7" y2="374.0" stroke="#6a6a6a" stroke-width="1"/>
<text x="22.7" y="376.8" font-size="7.8" text-anchor="end" font-weight="normal" fill="#111">8</text>
<line x1="23.5" y1="411.0" x2="25.7" y2="411.0" stroke="#6a6a6a" stroke-width="1"/>
<text x="22.7" y="413.8" font-size="7.8" text-anchor="end" font-weight="normal" fill="#111">4</text>
<line x1="33.7" y1="418.7" x2="158.6" y2="418.7" stroke="#6a6a6a" stroke-width="1"/>
<line x1="33.7" y1="418.7" x2="33.7" y2="421.2" stroke="#6a6a6a" stroke-width="1"/>
<text x="33.7" y="429.7" font-size="7.8" text-anchor="middle" font-weight="normal" fill="#111">0</text>
<line x1="75.33333333333334" y1="418.7" x2="75.33333333333334" y2="421.2" stroke="#6a6a6a" stroke-width="1"/>
<text x="75.33" y="429.7" font-size="7.8" text-anchor="middle" font-weight="normal" fill="#111">10</text>
<line x1="116.96666666666667" y1="418.7" x2="116.96666666666667" y2="421.2" stroke="#6a6a6a" stroke-width="1"/>
<text x="116.97" y="429.7" font-size="7.8" text-anchor="middle" font-weight="normal" fill="#111">20</text>
<line x1="158.60000000000002" y1="417.09999999999997" x2="158.60000000000002" y2="421.3" stroke="#6a6a6a" stroke-width="1"/>
<text x="158.6" y="429.7" font-size="7.8" text-anchor="middle" font-weight="normal" fill="#111">30</text>
<line x1="165.0" y1="418.7" x2="240.5" y2="418.7" stroke="#6a6a6a" stroke-width="1"/>
<line x1="165.0" y1="417.09999999999997" x2="165.0" y2="421.3" stroke="#6a6a6a" stroke-width="1"/>
<line x1="171.3" y1="418.7" x2="171.3" y2="421.2" stroke="#6a6a6a" stroke-width="1"/>
<text x="171.3" y="429.7" font-size="7.8" text-anchor="middle" font-weight="normal" fill="#111">50</text>
<line x1="188.60000000000002" y1="418.7" x2="188.60000000000002" y2="421.2" stroke="#6a6a6a" stroke-width="1"/>
<text x="188.6" y="429.7" font-size="7.8" text-anchor="middle" font-weight="normal" fill="#111">100</text>
<line x1="205.9" y1="418.7" x2="205.9" y2="421.2" stroke="#6a6a6a" stroke-width="1"/>
<text x="205.9" y="429.7" font-size="7.8" text-anchor="middle" font-weight="normal" fill="#111">150</text>
<line x1="223.2" y1="418.7" x2="223.2" y2="421.2" stroke="#6a6a6a" stroke-width="1"/>
<text x="223.2" y="429.7" font-size="7.8" text-anchor="middle" font-weight="normal" fill="#111">200</text>
<line x1="240.5" y1="418.7" x2="240.5" y2="421.2" stroke="#6a6a6a" stroke-width="1"/>
<text x="240.5" y="429.7" font-size="7.8" text-anchor="middle" font-weight="normal" fill="#111">250</text>
<text x="133.5" y="325.4" font-size="10" text-anchor="start" font-weight="normal" fill="#050505">Ig</text>
<path d="M67.1,379.4 L83.7,374.2 L117.1,369.8 L160.1,372.03" fill="none" stroke="#a6a6a6" stroke-width="1.6"/>
<path d="M163.7,372.21 L227.2,375.5" fill="none" stroke="#a6a6a6" stroke-width="1.6"/>
<path d="M67.1,370.8 L83.7,372.3 L117.1,363.7 L160.1,361.47" fill="none" stroke="#111" stroke-width="1.8"/>
<path d="M163.7,361.29 L227.2,358" fill="none" stroke="#111" stroke-width="1.8"/>
<line x1="67.1" y1="374.5" x2="67.1" y2="384.2" stroke="#a6a6a6" stroke-width="1.9"/>
<line x1="64.69999999999999" y1="374.5" x2="69.5" y2="374.5" stroke="#a6a6a6" stroke-width="1.9"/>
<line x1="64.69999999999999" y1="384.2" x2="69.5" y2="384.2" stroke="#a6a6a6" stroke-width="1.9"/>
<line x1="83.7" y1="369.5" x2="83.7" y2="379.8" stroke="#a6a6a6" stroke-width="1.9"/>
<line x1="81.3" y1="369.5" x2="86.10000000000001" y2="369.5" stroke="#a6a6a6" stroke-width="1.9"/>
<line x1="81.3" y1="379.8" x2="86.10000000000001" y2="379.8" stroke="#a6a6a6" stroke-width="1.9"/>
<line x1="117.1" y1="366" x2="117.1" y2="373.7" stroke="#a6a6a6" stroke-width="1.9"/>
<line x1="114.69999999999999" y1="366" x2="119.5" y2="366" stroke="#a6a6a6" stroke-width="1.9"/>
<line x1="114.69999999999999" y1="373.7" x2="119.5" y2="373.7" stroke="#a6a6a6" stroke-width="1.9"/>
<line x1="227.2" y1="365.4" x2="227.2" y2="388.2" stroke="#a6a6a6" stroke-width="1.9"/>
<line x1="224.79999999999998" y1="365.4" x2="229.6" y2="365.4" stroke="#a6a6a6" stroke-width="1.9"/>
<line x1="224.79999999999998" y1="388.2" x2="229.6" y2="388.2" stroke="#a6a6a6" stroke-width="1.9"/>
<line x1="67.1" y1="364" x2="67.1" y2="379.4" stroke="#111" stroke-width="1.9"/>
<line x1="64.69999999999999" y1="364" x2="69.5" y2="364" stroke="#111" stroke-width="1.9"/>
<line x1="64.69999999999999" y1="379.4" x2="69.5" y2="379.4" stroke="#111" stroke-width="1.9"/>
<line x1="83.7" y1="368.5" x2="83.7" y2="377.5" stroke="#111" stroke-width="1.9"/>
<line x1="81.3" y1="368.5" x2="86.10000000000001" y2="368.5" stroke="#111" stroke-width="1.9"/>
<line x1="81.3" y1="377.5" x2="86.10000000000001" y2="377.5" stroke="#111" stroke-width="1.9"/>
<line x1="117.1" y1="359.2" x2="117.1" y2="368.8" stroke="#111" stroke-width="1.9"/>
<line x1="114.69999999999999" y1="359.2" x2="119.5" y2="359.2" stroke="#111" stroke-width="1.9"/>
<line x1="114.69999999999999" y1="368.8" x2="119.5" y2="368.8" stroke="#111" stroke-width="1.9"/>
<line x1="227.2" y1="354.4" x2="227.2" y2="363.3" stroke="#111" stroke-width="1.9"/>
<line x1="224.79999999999998" y1="354.4" x2="229.6" y2="354.4" stroke="#111" stroke-width="1.9"/>
<line x1="224.79999999999998" y1="363.3" x2="229.6" y2="363.3" stroke="#111" stroke-width="1.9"/>
<text x="118.7" y="396" font-size="9.2" text-anchor="start" font-weight="normal" fill="#111">p=0.0414</text>
<text x="93.3" y="446.2" font-size="10.5" text-anchor="start" font-weight="normal" fill="#050505">Days post-injection</text>
<text x="282.6" y="373.2" font-size="10.3" text-anchor="middle" font-weight="normal" fill="#050505" transform="rotate(-90 282.6 373.2)">Log2 neutralizing Ab titer</text>
<line x1="298.0" y1="337.4" x2="298.0" y2="411.5" stroke="#6a6a6a" stroke-width="1"/>
<line x1="295.8" y1="337.4" x2="298.0" y2="337.4" stroke="#6a6a6a" stroke-width="1"/>
<text x="295.0" y="340.2" font-size="7.8" text-anchor="end" font-weight="normal" fill="#111">16</text>
<line x1="295.8" y1="374.2" x2="298.0" y2="374.2" stroke="#6a6a6a" stroke-width="1"/>
<text x="295.0" y="377.0" font-size="7.8" text-anchor="end" font-weight="normal" fill="#111">8</text>
<line x1="295.8" y1="411.5" x2="298.0" y2="411.5" stroke="#6a6a6a" stroke-width="1"/>
<text x="295.0" y="414.3" font-size="7.8" text-anchor="end" font-weight="normal" fill="#111">4</text>
<line x1="307.0" y1="419.5" x2="430.8" y2="419.5" stroke="#6a6a6a" stroke-width="1"/>
<line x1="307.0" y1="419.5" x2="307.0" y2="422.0" stroke="#6a6a6a" stroke-width="1"/>
<text x="307.0" y="430.5" font-size="7.8" text-anchor="middle" font-weight="normal" fill="#111">0</text>
<line x1="348.26666666666665" y1="419.5" x2="348.26666666666665" y2="422.0" stroke="#6a6a6a" stroke-width="1"/>
<text x="348.27" y="430.5" font-size="7.8" text-anchor="middle" font-weight="normal" fill="#111">10</text>
<line x1="389.53333333333336" y1="419.5" x2="389.53333333333336" y2="422.0" stroke="#6a6a6a" stroke-width="1"/>
<text x="389.53" y="430.5" font-size="7.8" text-anchor="middle" font-weight="normal" fill="#111">20</text>
<line x1="430.8" y1="417.9" x2="430.8" y2="422.1" stroke="#6a6a6a" stroke-width="1"/>
<text x="430.8" y="430.5" font-size="7.8" text-anchor="middle" font-weight="normal" fill="#111">30</text>
<line x1="437.3" y1="419.5" x2="513.1" y2="419.5" stroke="#6a6a6a" stroke-width="1"/>
<line x1="437.3" y1="417.9" x2="437.3" y2="422.1" stroke="#6a6a6a" stroke-width="1"/>
<line x1="444.3" y1="419.5" x2="444.3" y2="422.0" stroke="#6a6a6a" stroke-width="1"/>
<text x="444.3" y="430.5" font-size="7.8" text-anchor="middle" font-weight="normal" fill="#111">50</text>
<line x1="461.5" y1="419.5" x2="461.5" y2="422.0" stroke="#6a6a6a" stroke-width="1"/>
<text x="461.5" y="430.5" font-size="7.8" text-anchor="middle" font-weight="normal" fill="#111">100</text>
<line x1="478.70000000000005" y1="419.5" x2="478.70000000000005" y2="422.0" stroke="#6a6a6a" stroke-width="1"/>
<text x="478.7" y="430.5" font-size="7.8" text-anchor="middle" font-weight="normal" fill="#111">150</text>
<line x1="495.90000000000003" y1="419.5" x2="495.90000000000003" y2="422.0" stroke="#6a6a6a" stroke-width="1"/>
<text x="495.9" y="430.5" font-size="7.8" text-anchor="middle" font-weight="normal" fill="#111">200</text>
<line x1="513.1" y1="419.5" x2="513.1" y2="422.0" stroke="#6a6a6a" stroke-width="1"/>
<text x="513.1" y="430.5" font-size="7.8" text-anchor="middle" font-weight="normal" fill="#111">250</text>
<text x="400.5" y="324.8" font-size="10" text-anchor="start" font-weight="normal" fill="#050505">IgG</text>
<path d="M339.8,383.3 L356.2,375.6 L389.4,372.3 L432,374.94" fill="none" stroke="#a6a6a6" stroke-width="1.6"/>
<path d="M436,375.19 L499.2,379.1" fill="none" stroke="#a6a6a6" stroke-width="1.6"/>
<path d="M339.8,381.3 L356.2,382.7 L389.4,366.5 L432,362.93" fill="none" stroke="#111" stroke-width="1.8"/>
<path d="M436,362.60 L499.2,357.3" fill="none" stroke="#111" stroke-width="1.8"/>
<line x1="339.8" y1="373.5" x2="339.8" y2="401.2" stroke="#a6a6a6" stroke-width="1.9"/>
<line x1="337.40000000000003" y1="373.5" x2="342.2" y2="373.5" stroke="#a6a6a6" stroke-width="1.9"/>
<line x1="337.40000000000003" y1="401.2" x2="342.2" y2="401.2" stroke="#a6a6a6" stroke-width="1.9"/>
<line x1="356.2" y1="366.5" x2="356.2" y2="384.5" stroke="#a6a6a6" stroke-width="1.9"/>
<line x1="353.8" y1="366.5" x2="358.59999999999997" y2="366.5" stroke="#a6a6a6" stroke-width="1.9"/>
<line x1="353.8" y1="384.5" x2="358.59999999999997" y2="384.5" stroke="#a6a6a6" stroke-width="1.9"/>
<line x1="389.4" y1="365.5" x2="389.4" y2="379.4" stroke="#a6a6a6" stroke-width="1.9"/>
<line x1="387.0" y1="365.5" x2="391.79999999999995" y2="365.5" stroke="#a6a6a6" stroke-width="1.9"/>
<line x1="387.0" y1="379.4" x2="391.79999999999995" y2="379.4" stroke="#a6a6a6" stroke-width="1.9"/>
<line x1="499.2" y1="366.6" x2="499.2" y2="396" stroke="#a6a6a6" stroke-width="1.9"/>
<line x1="496.8" y1="366.6" x2="501.59999999999997" y2="366.6" stroke="#a6a6a6" stroke-width="1.9"/>
<line x1="496.8" y1="396" x2="501.59999999999997" y2="396" stroke="#a6a6a6" stroke-width="1.9"/>
<line x1="339.8" y1="373.1" x2="339.8" y2="390.6" stroke="#111" stroke-width="1.9"/>
<line x1="337.40000000000003" y1="373.1" x2="342.2" y2="373.1" stroke="#111" stroke-width="1.9"/>
<line x1="337.40000000000003" y1="390.6" x2="342.2" y2="390.6" stroke="#111" stroke-width="1.9"/>
<line x1="356.2" y1="379.4" x2="356.2" y2="386.7" stroke="#111" stroke-width="1.9"/>
<line x1="353.8" y1="379.4" x2="358.59999999999997" y2="379.4" stroke="#111" stroke-width="1.9"/>
<line x1="353.8" y1="386.7" x2="358.59999999999997" y2="386.7" stroke="#111" stroke-width="1.9"/>
<line x1="389.4" y1="360.2" x2="389.4" y2="373.1" stroke="#111" stroke-width="1.9"/>
<line x1="387.0" y1="360.2" x2="391.79999999999995" y2="360.2" stroke="#111" stroke-width="1.9"/>
<line x1="387.0" y1="373.1" x2="391.79999999999995" y2="373.1" stroke="#111" stroke-width="1.9"/>
<line x1="499.2" y1="353.6" x2="499.2" y2="361.3" stroke="#111" stroke-width="1.9"/>
<line x1="496.8" y1="353.6" x2="501.59999999999997" y2="353.6" stroke="#111" stroke-width="1.9"/>
<line x1="496.8" y1="361.3" x2="501.59999999999997" y2="361.3" stroke="#111" stroke-width="1.9"/>
<text x="365.5" y="446.2" font-size="10.5" text-anchor="start" font-weight="normal" fill="#050505">Days post-injection</text>
<line x1="177.5" y1="467.5" x2="187.5" y2="467.5" stroke="#a6a6a6" stroke-width="1.6"/>
<text x="193.7" y="471.2" font-size="11" text-anchor="start" font-weight="normal" fill="#050505">KAP1 KO</text>
<line x1="273.7" y1="467.5" x2="281.7" y2="467.5" stroke="#111" stroke-width="1.8"/>
<text x="287.1" y="471.2" font-size="11" text-anchor="start" font-weight="normal" fill="#050505">ctrl</text>
</svg></body></html>
